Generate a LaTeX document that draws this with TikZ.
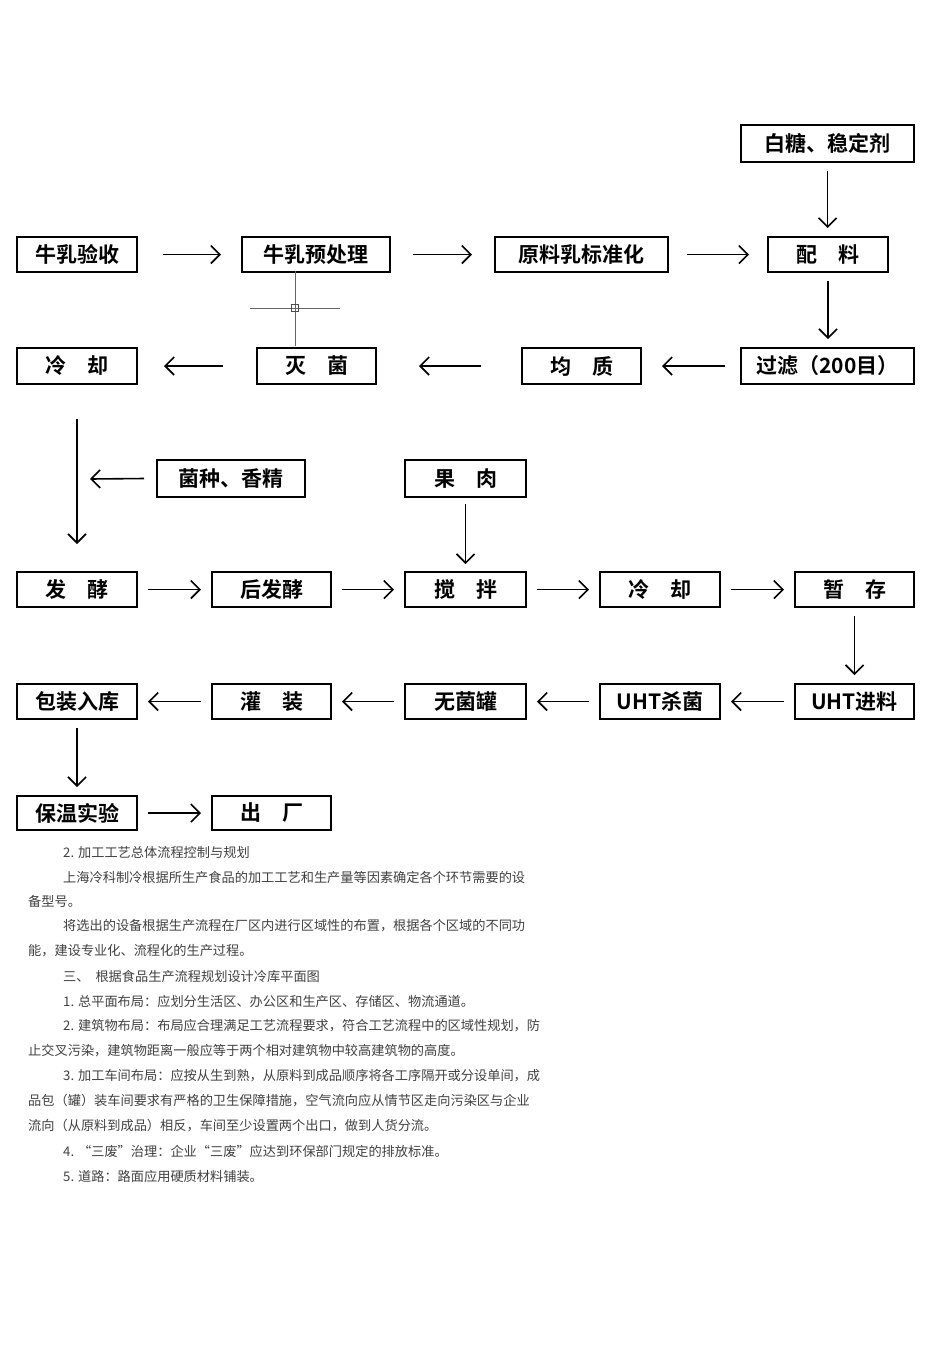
\documentclass[tikz,border=0pt]{standalone}
\usepackage{fontspec}
\newfontfamily\cjk{Noto Sans CJK SC}
\newfontfamily\cjkb{Noto Sans CJK SC Bold}
\usetikzlibrary{arrows.meta}
\begin{document}
\begin{tikzpicture}[x=1pt,y=-1pt,
 bx/.style={draw,line width=2pt,inner sep=0pt,font=\cjkb\fontsize{21}{22}\selectfont},
 ar/.style={line width=1.6pt,-{Straight Barb[length=9pt,width=18pt,line width=1.6pt]}},
 tx/.style={anchor=west,inner sep=0pt,text=black!75,font=\cjk\fontsize{13.2}{15}\selectfont}]
\useasboundingbox (0,0) rectangle (950,1345);
\newcommand\bxx[6]{\node[bx,minimum width={#4-#2},minimum height={#5-#3}] (#1) at ({(#2+#4)/2},{(#3+#5)/2}) {#6};}
\bxx{a1}{17}{237}{137}{272}{牛乳验收}
\bxx{a2}{242}{237}{390}{272}{牛乳预处理}
\bxx{a3}{495}{237}{668}{272}{原料乳标准化}
\bxx{a4}{768}{237}{888}{272}{配\quad 料}
\bxx{t}{741}{125}{914}{162}{白糖、稳定剂}
\bxx{b1}{17}{348}{137}{384}{冷\quad 却}
\bxx{b2}{257}{348}{376}{384}{灭\quad 菌}
\bxx{b3}{522}{348}{641}{384}{均\quad 质}
\bxx{b4}{741}{348}{914}{384}{过滤（200目）}
\bxx{s}{157}{460}{305}{497}{菌种、香精}
\bxx{g}{405}{460}{526}{497}{果\quad 肉}
\bxx{c1}{17}{572}{137}{607}{发\quad 酵}
\bxx{c2}{212}{572}{331}{607}{后发酵}
\bxx{c3}{405}{572}{526}{607}{搅\quad 拌}
\bxx{c4}{600}{572}{720}{607}{冷\quad 却}
\bxx{c5}{795}{572}{914}{607}{暂\quad 存}
\bxx{d1}{17}{684}{137}{719}{包装入库}
\bxx{d2}{212}{684}{331}{719}{灌\quad 装}
\bxx{d3}{405}{684}{526}{719}{无菌罐}
\bxx{d4}{600}{684}{720}{719}{UHT杀菌}
\bxx{d5}{795}{684}{914}{719}{UHT进料}
\bxx{e1}{17}{796}{137}{830}{保温实验}
\bxx{e2}{212}{796}{331}{830}{出\quad 厂}
\draw[ar] ([xshift=25pt]a1.east) -- ([xshift=-20pt]a2.west);
\draw[ar] ([xshift=22pt]a2.east) -- ([xshift=-22pt]a3.west);
\draw[ar] ([xshift=18pt]a3.east) -- ([xshift=-18pt]a4.west);
\draw[ar] ([yshift=-8pt]t.south) -- ([yshift=8pt]t.south |- a4.north);
\draw[ar] ([yshift=-8pt]a4.south) -- ([yshift=8pt]a4.south |- b4.north);
\draw[ar] ([xshift=-15pt]b4.west) -- ([xshift=20pt]b3.east);
\draw[ar] ([xshift=-40pt]b3.west) -- ([xshift=42pt]b2.east);
\draw[ar] ([xshift=-33pt]b2.west) -- ([xshift=26pt]b1.east);
\draw[ar] ([yshift=-34pt]b1.south) -- ([yshift=27pt]c1.north);
\coordinate (sa) at (90,479);
\draw[ar] ([xshift=-12pt]s.west) -- (sa);
\draw[ar] ([yshift=-6pt]g.south) -- ([yshift=7pt]c3.north);
\draw[ar] ([xshift=10pt]c1.east) -- ([xshift=-10pt]c2.west);
\draw[ar] ([xshift=10pt]c2.east) -- ([xshift=-10pt]c3.west);
\draw[ar] ([xshift=10pt]c3.east) -- ([xshift=-10pt]c4.west);
\draw[ar] ([xshift=10pt]c4.east) -- ([xshift=-10pt]c5.west);
\draw[ar] ([yshift=-8pt]c5.south) -- ([yshift=8pt]d5.north);
\foreach \p/\q in {d5/d4,d4/d3,d3/d2,d2/d1}
 \draw[ar] ([xshift=-10pt]\p.west) -- ([xshift=10pt]\q.east);
\draw[ar] ([yshift=-8pt]d1.south) -- ([yshift=8pt]e1.north);
\draw[ar] ([xshift=10pt]e1.east) -- ([xshift=-10pt]e2.west);
\coordinate (x0) at (295,308);
\draw[gray!80!black,line width=0.6pt] ([xshift=-45pt]x0) -- ([xshift=45pt]x0) ([yshift=-38pt]x0) -- ([yshift=37pt]x0);
\draw[gray!60!black,line width=0.6pt] ([shift={(-3.5,-3.5)}]x0) rectangle ([shift={(3.5,3.5)}]x0);
\node[tx] (l1) at (63,852) {2. 加工工艺总体流程控制与规划};
\node[tx] (l2) at (63,877) {上海冷科制冷根据所生产食品的加工工艺和生产量等因素确定各个环节需要的设};
\node[tx] (l3) at (28,901) {备型号。};
\node[tx] (l4) at (63,926) {将选出的设备根据生产流程在厂区内进行区域性的布置，根据各个区域的不同功};
\node[tx] (l5) at (28,951) {能，建设专业化、流程化的生产过程。};
\node[tx] (l6) at (63,976) {三、\ \ 根据食品生产流程规划设计冷库平面图};
\node[tx] (l7) at (63,1001) {1. 总平面布局：应划分生活区、办公区和生产区、存储区、物流通道。};
\node[tx] (l8) at (63,1026) {2. 建筑物布局：布局应合理满足工艺流程要求，符合工艺流程中的区域性规划，防};
\node[tx] (l9) at (28,1051) {止交叉污染，建筑物距离一般应等于两个相对建筑物中较高建筑物的高度。};
\node[tx] (l10) at (63,1076) {3. 加工车间布局：应按从生到熟，从原料到成品顺序将各工序隔开或分设单间，成};
\node[tx] (l11) at (28,1101) {品包（罐）装车间要求有严格的卫生保障措施，空气流向应从情节区走向污染区与企业};
\node[tx] (l12) at (28,1126) {流向（从原料到成品）相反，车间至少设置两个出口，做到人货分流。};
\node[tx] (l13) at (63,1151) {4. “三废”治理：企业“三废”应达到环保部门规定的排放标准。};
\node[tx] (l14) at (63,1176) {5. 道路：路面应用硬质材料铺装。};
\end{tikzpicture}
\end{document}
